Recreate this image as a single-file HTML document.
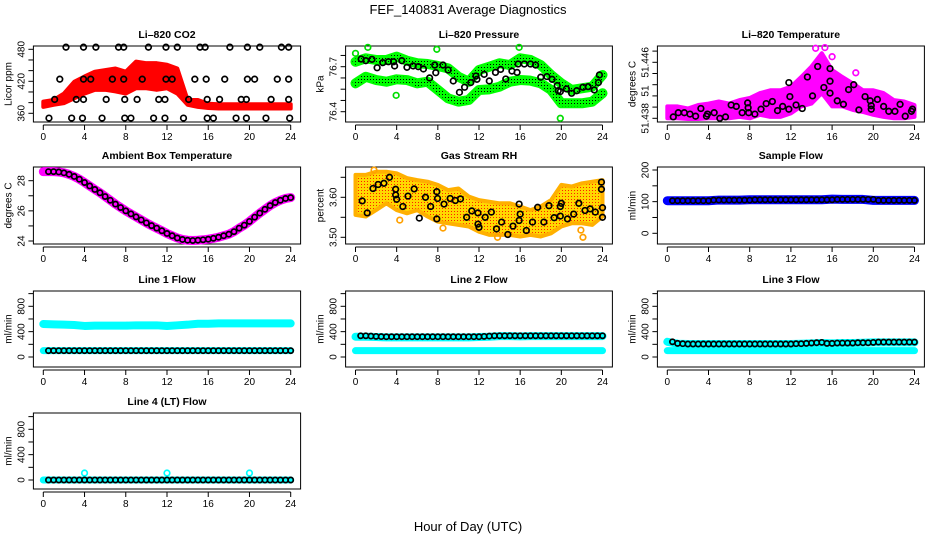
<!DOCTYPE html>
<html><head><meta charset="utf-8"><style>
html,body{margin:0;padding:0;background:#fff}
svg{display:block;font-family:"Liberation Sans",sans-serif}
</style></head><body>
<svg id="s" width="936" height="540" xmlns="http://www.w3.org/2000/svg">
<defs>
<pattern id="gp" width="3" height="3" patternUnits="userSpaceOnUse"><rect width="3" height="3" fill="#00ff00"/><rect x="1" y="1" width="1" height="1" fill="#000"/></pattern>
<pattern id="op" width="3" height="3" patternUnits="userSpaceOnUse"><rect width="3" height="3" fill="#ffd800"/><rect x="1" y="1" width="1" height="1" fill="#ff2000"/></pattern>
</defs>
<text x="468" y="14" text-anchor="middle" font-size="13">FEF_140831  Average Diagnostics</text>
<text x="468" y="531" text-anchor="middle" font-size="13">Hour of Day (UTC)</text>
</svg>
<script>
// ---- data ----
const hoursHourly=[0,1,2,3,4,5,6,7,8,9,10,11,12,13,14,15,16,17,18,19,20,21,22,23,24];
// CO2
const co2Lo=[372,376,379,388,397,404,404,401,397,407,407,404,407,397,376,372,370,369,369,369,369,369,369,369,369];
const co2Hi=[382,385,397,419,429,438,441,444,438,457,454,454,451,444,385,385,378,377,377,377,377,377,377,377,377];
const co2BlackH=[2.2,3.9,5.1,7.3,7.8,10.2,11.9,13.0,15.2,15.7,18.1,19.8,21.0,23.1,23.8,1.6,3.9,4.6,6.7,7.8,9.6,11.9,12.5,14.7,15.8,17.6,19.8,20.5,22.7,23.8,1.1,3.2,3.9,6.1,7.9,9.1,11.2,11.8,14.1,15.9,17.1,19.2,19.7,22.1,23.8,0.55,2.75,3.8,5.7,7.9,8.5,10.7,11.8,13.6,15.9,16.5,18.7,19.7,21.6,23.9];
const co2BlackV=[484,484,484,484,484,484,484,484,484,484,484,484,484,484,484,424,424,424,424,424,424,424,424,424,424,424,424,424,424,424,386,386,386,386,386,386,386,386,386,386,386,386,386,386,386,351,351,351,351,351,351,351,351,351,351,351,351,351,351,351];
// Pressure
const presUpper=[76.733,76.756,76.745,76.745,76.767,76.74,76.723,76.718,76.705,76.689,76.633,76.6,76.678,76.7,76.723,76.711,76.756,76.745,76.711,76.645,76.589,76.545,76.556,76.567,76.645];
const presLower=[76.589,76.633,76.611,76.6,76.616,76.611,76.589,76.6,76.545,76.489,76.467,76.478,76.545,76.549,76.567,76.6,76.611,76.607,76.589,76.545,76.456,76.456,76.456,76.467,76.523];
const presBlackH=[0.55,1.0,1.6,2.1,2.65,3.2,3.7,3.8,4.5,5.0,5.6,6.1,6.6,7.2,7.7,7.8,8.5,9.0,9.5,10.1,10.6,11.2,11.7,11.8,12.5,13.0,13.6,14.1,14.6,15.2,15.7,15.8,16.4,17.0,17.5,18.0,18.6,19.1,19.6,19.7,19.9,20.5,21.0,21.5,22.1,22.6,23.2,23.6,23.7];
const presBlackV=[76.751,76.74,76.749,76.693,76.727,76.733,76.733,76.705,76.74,76.696,76.705,76.7,76.685,76.625,76.711,76.66,76.711,76.678,76.605,76.529,76.563,76.594,76.638,76.616,76.649,76.605,76.662,76.682,76.618,76.671,76.662,76.718,76.718,76.718,76.711,76.63,76.634,76.616,76.574,76.54,76.534,76.552,76.523,76.54,76.563,76.567,76.545,76.594,76.645];
const presOutH=[0,1.2,3.95,7.9,15.9,19.9];
const presOutV=[76.789,76.829,76.509,76.816,76.829,76.356];
// Li-820 temperature
const tempLo=[51.438,51.438,51.4379,51.4379,51.438,51.438,51.438,51.4382,51.438,51.4385,51.4382,51.4382,51.4387,51.4397,51.4401,51.4416,51.4397,51.4397,51.4392,51.4389,51.4385,51.4382,51.438,51.438,51.4382];
const tempHi=[51.4397,51.4397,51.4394,51.4399,51.4401,51.4404,51.4401,51.4406,51.4409,51.4416,51.442,51.442,51.4425,51.4439,51.4454,51.4473,51.4449,51.4439,51.443,51.442,51.442,51.4416,51.4406,51.4404,51.4399];
const tempBlackH=[0.58,1.07,1.65,2.2,2.75,3.26,3.8,3.9,4.55,5.1,5.65,6.2,6.7,7.27,7.8,7.85,7.9,8.5,9.1,9.6,10.2,10.7,11.2,11.8,11.8,11.9,12.5,13.1,13.6,14.1,14.6,15.2,15.8,15.8,15.8,16.5,17.1,17.6,18.1,18.6,19.2,19.7,19.8,19.8,20.4,21.0,21.5,22.1,22.6,23.1,23.7,23.8];
const tempBlackV=[51.4382,51.4388,51.4388,51.4386,51.4383,51.4394,51.4383,51.4386,51.4388,51.438,51.4382,51.4399,51.4397,51.4388,51.4402,51.4395,51.4388,51.4386,51.4393,51.4401,51.4404,51.4391,51.4397,51.4393,51.4431,51.4411,51.4399,51.4394,51.4439,51.4412,51.4454,51.4424,51.4451,51.4416,51.4433,51.4405,51.44,51.4421,51.4428,51.4392,51.4411,51.4405,51.4398,51.4393,51.4407,51.4397,51.439,51.439,51.44,51.4383,51.439,51.4393];
const tempOutH=[14.4,15.3,16.0,13.8,18.3];
const tempOutV=[51.448,51.4481,51.4468,51.4440,51.4445];
// Ambient box temperature (half-hourly 0.5..24)
const ambient=[28.6,28.6,28.58,28.52,28.42,28.28,28.1,27.88,27.65,27.42,27.2,26.95,26.7,26.45,26.22,26.0,25.8,25.6,25.4,25.2,25.02,24.85,24.68,24.5,24.35,24.2,24.1,24.05,24.03,24.05,24.08,24.12,24.18,24.25,24.35,24.45,24.62,24.85,25.05,25.3,25.58,25.85,26.1,26.35,26.55,26.7,26.82,26.88];
const ambientStart=28.6;
// Gas stream RH
const rhLo=[3.556,3.552,3.568,3.585,3.568,3.56,3.568,3.552,3.539,3.535,3.531,3.527,3.514,3.506,3.506,3.506,3.502,3.506,3.502,3.51,3.527,3.535,3.535,3.531,3.552];
const rhHi=[3.656,3.656,3.664,3.664,3.66,3.648,3.643,3.639,3.631,3.618,3.622,3.602,3.593,3.589,3.585,3.585,3.577,3.568,3.577,3.593,3.631,3.627,3.635,3.639,3.643];
const rhBlackH=[0.65,1.14,1.7,2.2,2.76,3.3,3.9,3.9,4.0,4.6,5.1,5.7,6.2,6.8,7.3,7.9,7.97,7.9,8.6,9.2,9.7,10.2,10.8,11.3,11.9,11.9,12.0,12.6,13.2,13.7,14.2,14.8,15.3,15.9,16.0,15.9,16.6,17.2,17.7,18.3,18.8,19.3,19.9,19.9,20.0,20.6,21.2,21.7,22.3,22.8,23.3,23.9,23.9,24.0,24.0];
const rhBlackV=[3.591,3.561,3.622,3.632,3.635,3.65,3.62,3.606,3.595,3.577,3.603,3.621,3.548,3.6,3.577,3.614,3.597,3.546,3.583,3.597,3.592,3.596,3.55,3.566,3.561,3.533,3.525,3.55,3.563,3.521,3.538,3.507,3.528,3.542,3.558,3.583,3.517,3.538,3.575,3.538,3.579,3.549,3.553,3.577,3.585,3.546,3.558,3.585,3.567,3.571,3.563,3.638,3.62,3.574,3.55];
const rhOutH=[1.8,4.3,8.5,13.8,21.9,22.1];
const rhOutV=[3.668,3.543,3.523,3.5,3.518,3.5];
// Sample flow (hourly band, half-hourly black)
const sampleBand=[103,103,103,103,103,105,105,105,106,106,106,106,106,106,106,106,108,107,107,107,104,104,104,104,104];
const sampleBlack=[103,103,103,103,103,103,103,103,105,105,105,105,105,105,105,105,106,106,106,106,106,106,106,106,106,106,106,106,106,106,106,106,107,107,107,107,107,107,107,107,104,104,104,104,104,104,104,104];
// Line flows
const line1Upper=[520,515,510,505,490,495,495,495,495,500,500,500,490,500,510,525,525,530,530,530,530,530,530,530,530];
const line1Lower=[100,100,100,100,100,100,100,100,100,100,100,100,100,100,100,100,100,100,100,100,100,100,100,100,100];
const line1Black=[100,100,100,100,100,100,100,100,100,100,100,100,100,100,100,100,100,100,100,100,100,100,100,100,100,100,100,100,100,100,100,100,100,100,100,100,100,100,100,100,100,100,100,100,100,100,100,100];
const line2Upper=[320,320,315,310,310,310,310,310,310,310,310,310,315,320,330,330,325,330,330,330,330,330,330,330,330];
const line2Lower=[100,100,100,100,100,100,100,100,100,100,100,100,100,100,100,100,100,100,100,100,100,100,100,100,100];
const line2Black=[335,335,330,325,322,320,320,320,320,320,320,320,320,320,320,320,320,320,320,320,320,320,320,320,325,330,335,335,335,335,335,335,335,335,335,335,335,335,335,335,335,335,335,335,335,335,335,335];
const line3Upper=[240,210,205,205,205,205,205,205,205,205,205,205,205,210,215,220,215,220,220,225,230,230,230,230,230];
const line3Lower=[100,100,100,100,100,100,100,100,100,100,100,100,100,100,100,100,100,100,100,100,100,100,100,100,100];
const line3Black=[240,215,210,205,205,205,205,205,205,205,205,205,205,205,205,205,205,205,205,205,205,205,205,205,210,210,215,220,225,230,215,215,220,220,220,220,225,225,225,230,235,235,235,235,235,235,235,235];
const line4Cyan=[0,0,0,0,0,0,0,0,0,0,0,0,0,0,0,0,0,0,0,0,0,0,0,0,0];
const line4Black=[0,0,0,0,0,0,0,0,0,0,0,0,0,0,0,0,0,0,0,0,0,0,0,0,0,0,0,0,0,0,0,0,0,0,0,0,0,0,0,0,0,0,0,0,0,0,0,0];
const line4OutH=[4,12,20];
const line4OutV=[110,110,110];
const xTicks=[0,4,8,12,16,20,24];

// ---- drawing ----
const NS='http://www.w3.org/2000/svg';
const svg=document.getElementById('s');
const ROWS=[[46,122],[167,244],[291,367],[413,489]];
const COLS=[[43.3,290.7],[355.5,602.5],[667.3,914.5]];
function mk(tag,attrs,parent){const e=document.createElementNS(NS,tag);for(const k in attrs)e.setAttribute(k,attrs[k]);(parent||svg).appendChild(e);return e;}
function panel(r,c,name,title,ylab,ref,ticks,labels){
  const [top,bot]=ROWS[r],[x0,x24]=COLS[c];
  const g=mk('g',{});
  
  
  const sx=h=>x0+h/24*(x24-x0);
  const sy=v=>ref[1]+(v-ref[0])*(ref[3]-ref[1])/(ref[2]-ref[0]);
  const L=x0-9.9,R=x24+9.9;
  const t=mk('text',{x:(L+R)/2,y:top-8,'text-anchor':'middle','font-size':10.5,'font-weight':'bold'},g);t.textContent=title;
  
  
  const box=mk('rect',{x:L,y:top,width:R-L,height:bot-top,fill:'none',stroke:'#000','stroke-width':1},g);
  
  
  const ax=mk('g',{},g);
  
  
  xTicks.forEach(h=>{mk('line',{x1:sx(h),x2:sx(h),y1:bot+3,y2:bot+8,stroke:'#000'},ax);
    const tl=mk('text',{x:sx(h),y:bot+18,'text-anchor':'middle','font-size':10},ax);tl.textContent=h;});
  mk('line',{x1:sx(0),x2:sx(24),y1:bot+3,y2:bot+3,stroke:'#000'},ax);
  const ay=mk('g',{},g);
  
  
  ticks.forEach(v=>mk('line',{x1:L-5,x2:L,y1:sy(v),y2:sy(v),stroke:'#000'},ay));
  labels.forEach(([v,s])=>{const tl=mk('text',{x:L-9,y:sy(v),'text-anchor':'middle','font-size':10,transform:`rotate(-90 ${L-9} ${sy(v)})`},ay);tl.textContent=s;});
  const yl=mk('text',{x:L-22,y:(top+bot)/2,'text-anchor':'middle','font-size':10,transform:`rotate(-90 ${L-22} ${(top+bot)/2})`},g);yl.textContent=ylab;
  
  
  const clip=mk('g',{},g);
  return {sx,sy,g:clip};
}
function band(p,lo,hi,fill,stroke,name){
  let d='M'+hoursHourly.map((h,i)=>p.sx(h)+','+p.sy(hi[i])).join(' L');
  d+=' L'+hoursHourly.slice().reverse().map((h,j)=>{const i=hoursHourly.length-1-j;return p.sx(h)+','+p.sy(lo[i]);}).join(' L')+'Z';
  const e=mk('path',{d,fill,stroke,'stroke-width':4,'stroke-linejoin':'round'},p.g);
  
  
}
function thick(p,hs,vals,color,w,name){
  const d='M'+hs.map((h,i)=>p.sx(h)+','+p.sy(vals[i])).join(' L');
  const e=mk('path',{d,fill:'none',stroke:color,'stroke-width':w,'stroke-linecap':'round','stroke-linejoin':'round'},p.g);
  
  
}
function pts(p,hs,vals,color,name,r){
  const g=mk('g',{},p.g);
  
  
  hs.forEach((h,i)=>mk('circle',{cx:p.sx(h),cy:p.sy(vals[i]),r:r||2.8,fill:'none',stroke:color,'stroke-width':1.7},g));
}
const halfH=[];for(let i=1;i<=48;i++)halfH.push(i*0.5);

// Row 1
let p=panel(0,0,'co2','Li\u2013820 CO2','Licor ppm',[360,113.3,480,49.3],[360,380,400,420,440,460,480],[[360,'360'],[420,'420'],[480,'480']]);
band(p,co2Lo,co2Hi,'#ff0000','#ff0000','co2-cloud');
pts(p,co2BlackH,co2BlackV,'#000','co2-black-points');

p=panel(0,1,'pressure','Li\u2013820 Pressure','kPa',[76.4,111.7,76.7,66.7],[76.4,76.475,76.55,76.625,76.7,76.775],[[76.4,'76.4'],[76.7,'76.7']]);
thick(p,hoursHourly,presUpper,'#00ff00',10,'pressure-upper-band');
thick(p,hoursHourly,presLower,'#00ff00',10,'pressure-lower-band');
thick(p,hoursHourly,presUpper,'url(#gp)',6,'pressure-upper-core');
thick(p,hoursHourly,presLower,'url(#gp)',6,'pressure-lower-core');
pts(p,presOutH,presOutV,'#00dd00','pressure-outliers');
pts(p,presBlackH,presBlackV,'#000','pressure-black-points');

p=panel(0,2,'temperature','Li\u2013820 Temperature','degrees C',[51.438,118.3,51.446,62.3],[51.438,51.4396,51.4412,51.4428,51.4444,51.446,51.4476],[[51.438,'51.438'],[51.4419,'51'],[51.446,'51.446']]);
band(p,tempLo,tempHi,'#ff00ff','#ff00ff','temperature-cloud');
pts(p,tempOutH,tempOutV,'#ff00ff','temperature-outliers');
pts(p,tempBlackH,tempBlackV,'#000','temperature-black-points');

// Row 2
p=panel(1,0,'ambient','Ambient Box Temperature','degrees C',[24,241,28,180.7],[24,25,26,27,28],[[24,'24'],[26,'26'],[28,'28']]);
thick(p,[0].concat(halfH),[ambientStart].concat(ambient),'#ff00ff',9,'ambient-band');
pts(p,halfH,ambient,'#000','ambient-black-points',2.6);

p=panel(1,1,'rh','Gas Stream RH','percent',[3.5,237.3,3.6,197.3],[3.5,3.55,3.6,3.65],[[3.5,'3.50'],[3.6,'3.60']]);
band(p,rhLo,rhHi,'url(#op)','#ffb000','rh-cloud');
pts(p,rhOutH,rhOutV,'#ffa000','rh-outliers');
pts(p,rhBlackH,rhBlackV,'#000','rh-black-points');

p=panel(1,2,'sample-flow','Sample Flow','ml/min',[0,233.3,200,170],[0,50,100,150,200],[[0,'0'],[100,'100'],[200,'200']]);
thick(p,hoursHourly,sampleBand,'#0000ff',9,'sample-flow-band');
pts(p,halfH,sampleBlack,'#000','sample-flow-black-points',2.6);

// Row 3 & 4
const flowTicks=[0,200,400,600,800,1000],flowLabels=[[0,'0'],[400,'400'],[800,'800']];
p=panel(2,0,'line1-flow','Line 1 Flow','ml/min',[0,357,800,306.3],flowTicks,flowLabels);
thick(p,hoursHourly,line1Upper,'#00ffff',8,'line1-upper-band');
thick(p,hoursHourly,line1Lower,'#00ffff',7,'line1-lower-band');
pts(p,halfH,line1Black,'#000','line1-black-points',2.6);

p=panel(2,1,'line2-flow','Line 2 Flow','ml/min',[0,357,800,306.3],flowTicks,flowLabels);
thick(p,hoursHourly,line2Upper,'#00ffff',8,'line2-upper-band');
thick(p,hoursHourly,line2Lower,'#00ffff',7,'line2-lower-band');
pts(p,halfH,line2Black,'#000','line2-black-points',2.6);

p=panel(2,2,'line3-flow','Line 3 Flow','ml/min',[0,357,800,306.3],flowTicks,flowLabels);
thick(p,hoursHourly,line3Upper,'#00ffff',8,'line3-upper-band');
thick(p,hoursHourly,line3Lower,'#00ffff',7,'line3-lower-band');
pts(p,halfH,line3Black,'#000','line3-black-points',2.6);

p=panel(3,0,'line4-flow','Line 4 (LT) Flow','ml/min',[0,480,800,429.3],flowTicks,flowLabels);
thick(p,hoursHourly,line4Cyan,'#00ffff',7,'line4-band');
pts(p,line4OutH,line4OutV,'#00ffff','line4-outliers');
pts(p,halfH,line4Black,'#000','line4-black-points',2.6);
</script>
</body></html>
